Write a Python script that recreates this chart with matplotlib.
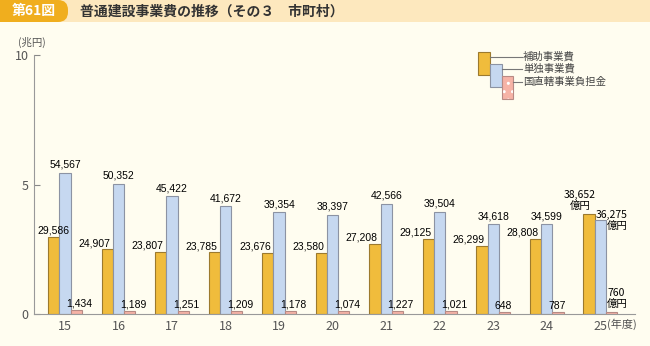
import numpy as np
import matplotlib.pyplot as plt
from matplotlib.patches import Rectangle, FancyBboxPatch

# data (億円)
years = ['15', '16', '17', '18', '19', '20', '21', '22', '23', '24', '25']
hojo = [29586, 24907, 23807, 23785, 23676, 23580, 27208, 29125, 26299, 28808, 38652]
tandoku = [54567, 50352, 45422, 41672, 39354, 38397, 42566, 39504, 34618, 34599, 36275]
kunichoku = [1434, 1189, 1251, 1209, 1178, 1074, 1227, 1021, 648, 787, 760]
series_names = ['補助事業費', '単独事業費', '国直轄事業負担金']

jp = ['Noto Sans CJK JP', 'DejaVu Sans']
num = ['Liberation Sans Narrow', 'Liberation Sans', 'DejaVu Sans']

bg = '#FFFDF0'
c_yel, e_yel = '#F0BC3C', '#9C7A2E'
c_blu, e_blu = '#C6D8F0', '#8C93A3'
c_pnk, e_pnk = '#F6B3A6', '#B78A84'

fig = plt.figure(figsize=(6.5, 3.46), dpi=100, facecolor=bg)
ax = fig.add_axes([34 / 650, 32 / 346, 601 / 650, 259 / 346], facecolor=bg)

x = np.arange(len(years))
w = 0.21
y1 = np.array(hojo) / 10000
y2 = np.array(tandoku) / 10000
y3 = np.array(kunichoku) / 10000

ax.bar(x - w, y1, w, color=c_yel, edgecolor=e_yel, linewidth=0.8, zorder=2)
ax.bar(x, y2, w, color=c_blu, edgecolor=e_blu, linewidth=0.8, zorder=2)
ax.bar(x + w, y3, w, color=c_pnk, edgecolor='white', hatch='..', linewidth=0, zorder=2)
ax.bar(x + w, y3, w, fill=False, edgecolor=e_pnk, linewidth=0.8, zorder=3)

ax.set_xlim(-0.58, 10.65)
ax.set_ylim(0, 10)
ax.set_yticks([0, 5, 10])
ax.set_xticks(x)
ax.set_xticklabels(years)
ax.tick_params(axis='y', direction='in', length=4, color='#888888', labelsize=9,
               labelcolor='#555555', pad=4)
ax.tick_params(axis='x', length=0, labelsize=9, labelcolor='#555555', pad=4)
for t in ax.get_xticklabels() + ax.get_yticklabels():
    t.set_family(jp)
for s in ['top', 'right']:
    ax.spines[s].set_visible(False)
ax.spines['left'].set_color('#999999')
ax.spines['bottom'].set_color('#999999')

# value labels
fs = 7.5
for i in range(len(years)):
    if i == len(years) - 1:
        ax.annotate(f'{hojo[i]:,}\n億円', (x[i] - w / 2, y1[i]), xytext=(1, 2),
                    textcoords='offset points', ha='right', va='bottom', ma='center',
                    fontsize=fs, family=jp, linespacing=1.1)
        ax.annotate(f'{tandoku[i]:,}\n億円', (x[i], y2[i]), xytext=(-3, 0),
                    textcoords='offset points', ha='left', va='center', ma='right',
                    fontsize=fs, family=jp, linespacing=1.1)
        ax.annotate(f'{kunichoku[i]:,}\n億円', (x[i] + w / 2, y3[i]), xytext=(1, 2),
                    textcoords='offset points', ha='left', va='bottom', ma='left',
                    fontsize=fs, family=jp, linespacing=1.1)
        continue
    if i == 0:
        ax.annotate(f'{hojo[i]:,}', (x[i] - w, y1[i]), xytext=(0, 1),
                    textcoords='offset points', ha='center', va='bottom', fontsize=fs, family=num)
    else:
        ax.annotate(f'{hojo[i]:,}', (x[i] - w / 2, y1[i]), xytext=(-2, 1),
                    textcoords='offset points', ha='right', va='bottom', fontsize=fs, family=num)
    ax.annotate(f'{tandoku[i]:,}', (x[i], y2[i]), xytext=(0, 2),
                textcoords='offset points', ha='center', va='bottom', fontsize=fs, family=num)
    ax.annotate(f'{kunichoku[i]:,}', (x[i] + w / 2, y3[i]), xytext=(-3, 1),
                textcoords='offset points', ha='left', va='bottom', fontsize=fs, family=num)

# overlay in pixel coords for header, units, legend
ov = fig.add_axes([0, 0, 1, 1], facecolor='none')
ov.set_xlim(0, 650)
ov.set_ylim(346, 0)
ov.axis('off')

ov.add_patch(Rectangle((0, 0), 650, 22, color='#FDE8BE', lw=0))
ov.add_patch(FancyBboxPatch((-20, 0), 88, 22, boxstyle='round,pad=0,rounding_size=10',
                            color='#F0AE1E', lw=0))
ov.text(34, 11.5, '第61図', color='white', fontsize=10, fontweight='bold',
        family=jp, ha='center', va='center')
ov.text(80, 11.5, '普通建設事業費の推移（その３　市町村）', color='#333333', fontsize=10,
        fontweight='bold', family=jp, ha='left', va='center')

ov.text(32, 42, '(兆円)', color='#555555', fontsize=7.5, family=jp, ha='center', va='center')
ov.text(607, 324, '(年度)', color='#555555', fontsize=8, family=jp, ha='left', va='center')

# legend
ov.add_patch(Rectangle((478, 52), 12, 23, facecolor=c_yel, edgecolor=e_yel, lw=0.8))
ov.add_patch(Rectangle((490, 64), 12, 23, facecolor=c_blu, edgecolor=e_blu, lw=0.8))
ov.add_patch(Rectangle((502, 76), 11, 23, facecolor=c_pnk, edgecolor='white', hatch='..', lw=0))
ov.add_patch(Rectangle((502, 76), 11, 23, fill=False, edgecolor=e_pnk, lw=0.8))
for xs, yy, name in zip([490, 502, 513], [57, 69, 82], series_names):
    ov.plot([xs, 522], [yy, yy], color='#777777', lw=0.8)
    ov.text(523, yy, name, fontsize=7.5, color='#444444', family=jp, ha='left', va='center')

fig.savefig('out.png', dpi=100, facecolor=bg)
